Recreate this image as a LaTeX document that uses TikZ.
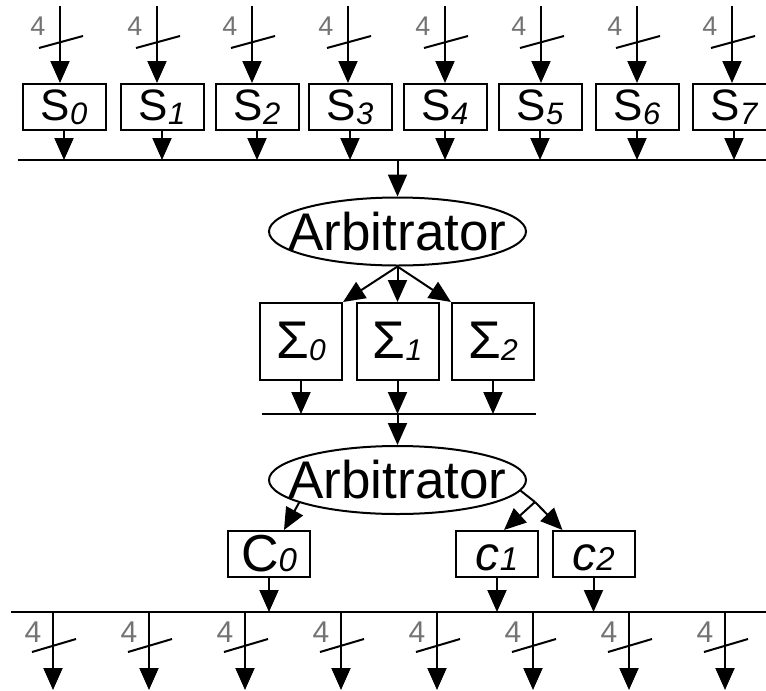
\documentclass[tikz,border=0pt]{standalone}
\usepackage{fontspec}
\setmainfont{Liberation Sans}
\usetikzlibrary{arrows.meta,shapes.geometric}
\newcommand{\fsz}[1]{\fontsize{#1}{#1}\selectfont}
\newcommand{\low}[3]{\raisebox{-#2}{\fsz{#1}\itshape #3}}

\begin{document}
\begin{tikzpicture}[x=1pt,y=-1pt,line width=2pt,
  sbox/.style={draw,inner sep=0pt,minimum width=83pt,minimum height=46pt,font=\fsz{44}},
  gbox/.style={draw,inner sep=0pt,minimum width=82pt,minimum height=77pt,font=\fsz{53}},
  cbox/.style={draw,inner sep=0pt,minimum width=82pt,minimum height=46pt},
  arb/.style={draw,ellipse,inner sep=0pt,minimum width=257pt,minimum height=68pt},
  arr/.style={-{Triangle[length=22pt,width=19pt]}},
  bus/.style={line width=2.5pt},
  bits/.style={text=black!55,inner sep=0pt}]
\useasboundingbox (0,0) rectangle (766,691);
% 8 sources, 4 bits each
\foreach \i/\xa/\xb in {0/60/64,1/157/162,2/252/257,3/348/350,4/445/445,5/541/540,6/637/637,7/732/734}{
  \node[sbox] (S\i) at (\xb,107) {S\low{31}{4pt}{\i}};
  \coordinate (in\i) at (\xa,6);
  \draw[arr] (in\i) -- (in\i |- S\i.north);
  \draw ([shift={(-21,42)}]in\i) -- ([shift={(23,30)}]in\i);
  \node[bits,font=\fsz{27}] (nin\i) at ([shift={(-22,20)}]in\i) {4};
}
\coordinate (bus1) at (18,160);
\coordinate (bus1e) at (766,160);
\draw[bus] (bus1) -- (bus1e);
\foreach \i in {0,...,7}
  \draw[arr] (S\i.south) -- (S\i.south |- bus1);
% first arbitration stage
\node[arb] (arb1) at (397.5,231.5) {};
\node[font=\fsz{53}] (arb1t) at (arb1) {Arbitrator};
\draw[arr] (arb1.north |- bus1) -- (arb1.north);
\foreach \i/\x in {0/301,1/397.5,2/493}
  \node[gbox] (G\i) at (\x,341.5) {Σ\low{30}{2pt}{\i}};
\draw[arr] (arb1.south) -- (G0.north east);
\draw[arr] (arb1.south) -- (G1.north);
\draw[arr] (arb1.south) -- (G2.north west);
\coordinate (bus2) at (262,414);
\coordinate (bus2e) at (536,414);
\draw[bus] (bus2) -- (bus2e);
\foreach \i in {0,1,2}
  \draw[arr] (G\i.south) -- (G\i.south |- bus2);
% second arbitration stage
\node[arb] (arb2) at (397.5,480) {};
\node[font=\fsz{53}] (arb2t) at (arb2) {Arbitrator};
\draw[arr] (arb2.north |- bus2) -- (arb2.north);
\node[cbox,font=\fsz{52}] (C0) at (269,554) {C\low{33}{0pt}{0}};
\node[cbox,font=\fsz{48}] (C1) at (497,554) {\vphantom{C}\textit{c}\low{33}{0pt}{1}};
\node[cbox,font=\fsz{48}] (C2) at (593.5,554) {\vphantom{C}\textit{c}\low{33}{0pt}{2}};
\coordinate (jn) at (535,502);
\draw[arr] (arb2.193) -- ([xshift=15pt]C0.north);
\draw (arb2.-5) -- (jn);
\draw[arr] (jn) -- ([xshift=7pt]C1.north);
\draw[arr] (jn) -- ([xshift=-31pt]C2.north);
\coordinate (bus3) at (11,612);
\coordinate (bus3e) at (766,612);
\draw[bus] (bus3) -- (bus3e);
\foreach \i in {0,1,2}
  \draw[arr] (C\i.south) -- (C\i.south |- bus3);
% 8 outputs, 4 bits each
\foreach \i [evaluate=\i as \x using 53+96*\i] in {0,...,7}{
  \coordinate (o\i) at (\x,612);
  \coordinate (out\i) at (\x,690);
  \draw[arr] (o\i) -- (out\i);
  \draw ([shift={(-21,40)}]o\i) -- ([shift={(23,27)}]o\i);
  \node[bits,font=\fsz{30}] (nout\i) at ([shift={(-20,20)}]o\i) {4};
}
\end{tikzpicture}
\end{document}
